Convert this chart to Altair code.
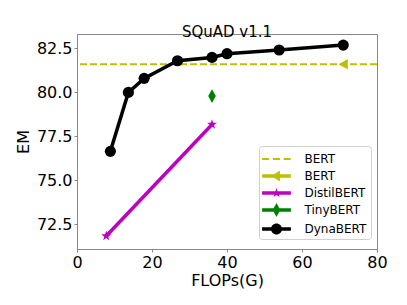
import math
import altair as alt
import pandas as pd

# ---- data ----
dyna_flops = [8.9, 13.7, 17.9, 26.8, 36.0, 40.0, 53.9, 71.0]
dyna_em = [76.63, 79.98, 80.78, 81.78, 81.97, 82.18, 82.39, 82.67]
distil_flops = [7.8, 36.0]
distil_em = [71.82, 78.16]
tiny_flops = [36.0]
tiny_em = [79.77]
bert_flops = [71.0]
bert_em = [81.58]
legend_names = ["BERT", "BERT ", "DistilBERT", "TinyBERT", "DynaBERT"]
legend_colors = ["#bfbf00", "#bfbf00", "#bf00bf", "#008000", "#000000"]
x_ticks = [0, 20, 40, 60, 80]
y_ticks = [72.5, 75.0, 77.5, 80.0, 82.5]

FONT = "DejaVu Sans"


# ---- legend symbol paths (line + marker in one filled path) ----
def rect(x0, x1, h):
    return f"M{x0},{-h}L{x1},{-h}L{x1},{h}L{x0},{h}Z"


def star(R, r):
    pts = []
    for i in range(10):
        rad = R if i % 2 == 0 else r
        a = -math.pi / 2 + i * math.pi / 5
        pts.append(f"{rad * math.cos(a):.3f},{rad * math.sin(a):.3f}")
    return "M" + "L".join(pts) + "Z"


def circle(r):
    return f"M{-r},0A{r},{r} 0 1,1 {r},0A{r},{r} 0 1,1 {-r},0Z"


L = 1.6      # half length of the legend line, in symbol units (9 px each)
lw = 0.19
p_dash = (rect(-1.6, -0.82, 0.11) + rect(-0.4, 0.38, 0.11)
          + rect(0.8, 1.58, 0.11))
p_tri = rect(-L, L, lw) + "M-0.58,0L0.38,-0.6L0.38,0.6Z"
p_star = rect(-L, L, lw) + star(0.55, 0.22)
p_dia = rect(-L, L, lw) + "M0,-0.78L0.42,0L0,0.78L-0.42,0Z"
p_circ = rect(-L, L, lw) + circle(0.61)
legend_shapes = [p_dash, p_tri, p_star, p_dia, p_circ]

dyna_df = pd.DataFrame({"flops": dyna_flops, "em": dyna_em})
distil_df = pd.DataFrame({"flops": distil_flops, "em": distil_em})
tiny_df = pd.DataFrame({"flops": tiny_flops, "em": tiny_em})
bert_df = pd.DataFrame({"flops": bert_flops, "em": bert_em})
leg_df = pd.DataFrame({"series": legend_names, "flops": [40] * 5, "em": [78] * 5})

xs = alt.Scale(domain=[0, 80], nice=False, zero=False)
ys = alt.Scale(domain=[71.08, 83.3], nice=False, zero=False)
X = alt.X("flops:Q", scale=xs, title="FLOPs(G)",
          axis=alt.Axis(values=x_ticks, format="d", labelFlush=False,
                        titleBaseline="alphabetic", titleY=36.5))
Y = alt.Y("em:Q", scale=ys, title="EM",
          axis=alt.Axis(values=y_ticks, format=".1f", labelFlush=False,
                        titleBaseline="alphabetic", titleX=-49))

bert_line = alt.Chart(bert_df).mark_rule(
    color="#bfbf00", strokeWidth=2, strokeDash=[7, 3]
).encode(y=alt.Y("em:Q", scale=ys))

bert_pt = alt.Chart(bert_df).mark_point(
    shape="triangle-left", filled=True, color="#bfbf00", size=110, opacity=1
).encode(x=X, y=Y)

distil_line = alt.Chart(distil_df).mark_line(
    color="#bf00bf", strokeWidth=3.5
).encode(x=X, y=Y)
distil_pt = alt.Chart(distil_df).mark_point(
    shape=star(1.0, 0.4), filled=True, color="#bf00bf", size=110, opacity=1
).encode(x=X, y=Y)

tiny_pt = alt.Chart(tiny_df).mark_point(
    shape="M0,-1L0.55,0L0,1L-0.55,0Z", filled=True, color="#008000",
    size=190, opacity=1
).encode(x=X, y=Y)

dyna_line = alt.Chart(dyna_df).mark_line(
    color="#000000", strokeWidth=3.5
).encode(x=X, y=Y)
dyna_pt = alt.Chart(dyna_df).mark_point(
    shape="circle", filled=True, color="#000000", size=125, opacity=1
).encode(x=X, y=Y)

legend_layer = alt.Chart(leg_df).mark_point(filled=True, opacity=0).encode(
    x=X, y=Y,
    color=alt.Color("series:N",
                    scale=alt.Scale(domain=legend_names, range=legend_colors),
                    legend=alt.Legend(
                        title=None, orient="none", legendX=182, legendY=112,
                        symbolSize=324, symbolOpacity=1, symbolStrokeWidth=0,
                        symbolOffset=4.5,
                        labelFont=FONT, labelFontSize=12, labelColor="#000",
                        labelOffset=19, rowPadding=2, padding=4,
                        strokeColor="#d0d0d0", cornerRadius=3,
                        fillColor="white")),
    shape=alt.Shape("series:N",
                    scale=alt.Scale(domain=legend_names, range=legend_shapes),
                    legend=None),
)

chart = alt.layer(
    bert_line, bert_pt, distil_line, distil_pt, tiny_pt, dyna_line, dyna_pt,
    legend_layer
).properties(
    width=300, height=215,
    title=alt.Title("SQuAD v1.1", font=FONT, fontSize=15, fontWeight="normal",
                    color="#000", offset=-6),
    autosize=alt.AutoSizeParams(type="none"),
    padding={"left": 69, "top": 26, "right": 14, "bottom": 40},
).configure_axis(
    grid=False, labelFont=FONT, labelFontSize=16, labelColor="#000",
    titleFont=FONT, titleFontSize=16, titleFontWeight="normal",
    titleColor="#000", domainColor="#888", tickColor="#888", tickSize=3,
    labelPadding=2,
).configure_view(
    stroke="#888"
)

chart.save("out.html", embed_options={"renderer": "svg", "actions": False})
